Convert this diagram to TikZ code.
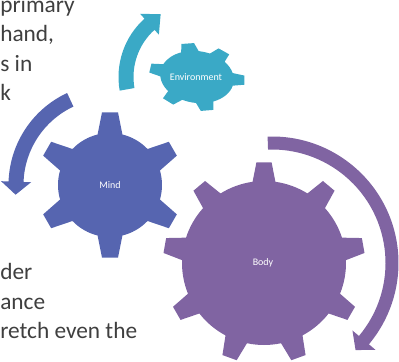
\documentclass[tikz,border=0pt]{standalone}
\usepackage{fontspec}
\setmainfont{Carlito}
\definecolor{mindblue}{HTML}{5665B0}
\definecolor{envcyan}{HTML}{3AA9C6}
\definecolor{bodypurple}{HTML}{8064A2}
\definecolor{slidetext}{HTML}{3F3F3F}

% A toothed wheel: #1 fill colour, #2 placement, #3 root radius, #4 tip radius,
% #5 half-angle of a tooth at the root, #6 half-angle at the tip,
% #7 angle of the first tooth, #8 list of tooth/next-tooth angles
\newcommand\drawcog[8]{%
  \begin{scope}[#2]
    \fill[#1] ({#7-#5}:#3)
      foreach \a/\b in {#8} {
        -- ({\a-#6}:#4) -- ({\a+#6}:#4) -- ({\a+#5}:#3)
        arc[start angle={\a+#5}, end angle={\b-#5}, radius=#3]
      } -- cycle;
  \end{scope}}

% A curved band ending in an arrow head: #1 colour, #2 centre, #3 mid radius,
% #4 band width, #5 tail angle, #6 angle of the head's back edge,
% #7 half-width of the head, #8 head length, #9 turning sense (+1 / -1)
\newcommand\swoosh[9]{%
  \begin{scope}[shift={#2}]
    \fill[#1] (#5:{#3+#4/2})
      arc[start angle=#5, end angle=#6, radius={#3+#4/2}]
      -- (#6:{#3+#7})
      -- ({#6+#9*atan(#8/#3)}:{sqrt(#3*#3+#8*#8)})
      -- (#6:{#3-#7})
      -- (#6:{#3-#4/2})
      arc[start angle=#6, end angle=#5, radius={#3-#4/2}]
      -- cycle;
  \end{scope}}

\tikzset{
  slideline/.style={anchor=base west, inner sep=0pt, text=slidetext,
    font=\fontsize{17.5}{21}\selectfont},
  geartext/.style={inner sep=0pt, text=white,
    font=\fontsize{7.5}{9}\selectfont},
}

\begin{document}
\begin{tikzpicture}[x=0.75pt, y=0.75pt]
  \useasboundingbox (0,0) rectangle (399,361);
  \clip (0,0) rectangle (399,361);

  % body text of the slide, cut at the left edge
  \node[slideline] (t1) at (0,348) {primary};
  \node[slideline] (t2) at (0,319) {hand,};
  \node[slideline] (t3) at (0,289.5) {s in};
  \node[slideline] (t4) at (0,260) {k};
  \node[slideline] (t5) at (0,81.5) {der};
  \node[slideline] (t6) at (0,52) {ance};
  \node[slideline] (t7) at (0,22.5) {retch even the};

  % turning arrows
  \swoosh{envcyan}{(197,284)}{71}{15}{190}{132}{14}{15}{-1}
  \swoosh{mindblue}{(110,176)}{94}{15}{115}{178}{15}{13}{1}
  \swoosh{bodypurple}{(272,98)}{120}{13}{92}{-40}{15}{13}{-1}

  % the three wheels
  \drawcog{envcyan}{shift={(197,284)}, rotate=-8, yscale=0.7}{37}{48}{14}{7.8}{-122}
    {-122/-72,-72/6,6/61,61/107,107/176,176/238}
  \drawcog{mindblue}{shift={(110,176)}}{52}{73}{13.8}{6.3}{90}
    {90/150,150/210,210/270,270/330,330/390,390/450}
  \drawcog{bodypurple}{shift={(264,98)}}{82}{101}{8}{4.3}{90}
    {90/130,130/170,170/210,210/250,250/290,290/330,330/370,370/410,410/450}

  \node[geartext] (env) at (196,284) {Environment};
  \node[geartext] (mind) at (110,176) {Mind};
  \node[geartext] (body) at (263,98) {Body};
\end{tikzpicture}
\end{document}
